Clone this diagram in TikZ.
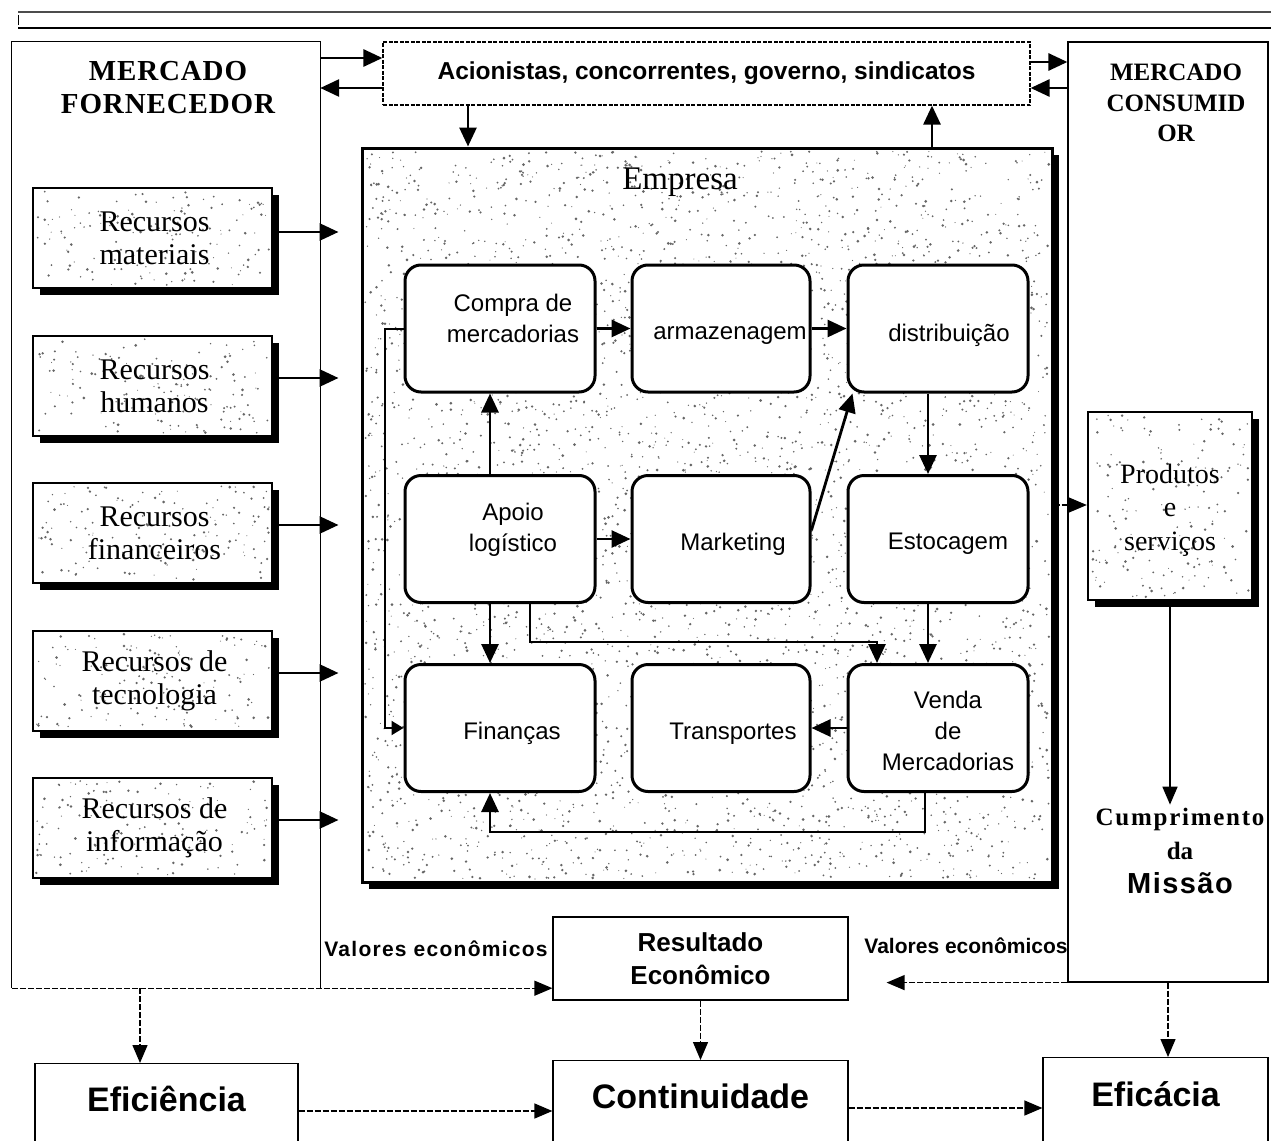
\documentclass[tikz,border=0pt]{standalone}
\usepackage{fontspec}
\setmainfont{Liberation Serif}
\setsansfont{Liberation Sans}
\usetikzlibrary{arrows.meta,calc}
\newcommand\fsz[2]{\fontsize{#1}{#2}\selectfont}
\newcommand\speckle[5]{\foreach \k in {1,...,#5}{\pgfmathsetmacro\rr{0.5+1.0*rnd}\fill[black!60] ({#1+#3*rnd},{#2+#4*rnd}) circle (\rr pt);}}
\newcommand\shbox[4]{\fill[black] ({#1+7},{#2+7}) rectangle ({#3+7},{#4+7});\fill[white] (#1,#2) rectangle (#3,#4);}
\tikzset{
  arr/.style={line width=2.8pt,-{Triangle[length=19pt,width=17pt]}},
  darr/.style={line width=1.3pt,dash pattern=on 6pt off 2pt,-{Triangle[length=18pt,width=15pt]}},
  inbox/.style={draw,line width=3pt,rounded corners=16pt,fill=white,minimum height=127pt},
  lbl/.style={align=center,font=\sffamily\fsz{24}{31}},
  resbox/.style={draw,line width=2.4pt,minimum width=239pt,minimum height=100pt},
  reslbl/.style={align=center,font=\fsz{30}{33},xshift=2pt},
  bigbox/.style={draw,line width=1.2pt,align=center,font=\sffamily\bfseries\fsz{34}{40},anchor=north,inner ysep=0pt,text height=48pt,text depth=60pt},
  thinbox/.style={draw,line width=1.2pt},
}
\begin{document}
\begin{tikzpicture}[x=1pt,y=-1pt]
\pgfmathsetseed{7}
\useasboundingbox (0,0) rectangle (1271,1140);
\clip (0,0) rectangle (1271,1140);
\fill[white] (0,0) rectangle (1271,1140);
% top rule
\draw[line width=1.2pt,black!70] (18,12) -- (1271,12);
\draw[line width=2pt] (18,28) -- (1271,28);
\draw[line width=1pt] (18,15) -- (18,25);
% Mercado fornecedor
\node[minimum width=308pt,minimum height=946pt,inner sep=0pt] (mf) at (166,515) {};
\draw[line width=1.2pt] (mf.south west) |- (mf.north east) -- (mf.south east);
\node[font=\bfseries\fsz{29}{33}\addfontfeature{LetterSpace=3},align=center] (mft) at (168,88) {MERCADO\\FORNECEDOR};
% Mercado consumidor
\node[thinbox,minimum width=200pt,minimum height=940pt,inner sep=0pt] (mc) at (1168,512) {};
\node[font=\bfseries\fsz{25}{30.5},align=center] (mct) at (1176,103) {MERCADO\\CONSUMID\\OR};
% Acionistas
\node[draw,dash pattern=on 4pt off 1.5pt,line width=1.2pt,minimum width=647pt,minimum height=63pt,inner sep=0pt,font=\sffamily\bfseries\fsz{24.5}{28}] (ac) at (706.5,73.5) {Acionistas, concorrentes, governo, sindicatos};
% resource boxes backgrounds
\foreach \t in {188,336,483,631,778}{\shbox{33}{\t}{272}{\t+100}\speckle{36}{\t+3}{233}{94}{150}}
\node[resbox,label={[reslbl]center:{Recursos\\materiais}}] (rm) at (152.5,238) {};
\node[resbox,label={[reslbl]center:{Recursos\\humanos}}] (rh) at (152.5,386) {};
\node[resbox,label={[reslbl]center:{Recursos\\financeiros}}] (rf) at (152.5,533) {};
\node[resbox,label={[reslbl]center:{Recursos de\\tecnologia}}] (rt) at (152.5,681) {};
\node[resbox,label={[reslbl]center:{Recursos de\\informação}}] (ri) at (152.5,828) {};
% Empresa
\shbox{362}{148}{1052}{882}
\speckle{365}{151}{684}{728}{4200}
\node[draw,line width=3pt,minimum width=690pt,minimum height=734pt,inner sep=0pt] (em) at (707,515) {};
\node[font=\fsz{33}{36}] (emt) at (680,182) {Empresa};
% inner boxes
\node[inbox,minimum width=190pt,label={[lbl,xshift=13pt,yshift=10pt]center:{Compra de\\mercadorias}}] (cp) at (500,328.5) {};
\node[inbox,minimum width=178pt,label={[lbl,xshift=9pt,yshift=-7pt]center:armazenagem}] (az) at (721,328.5) {};
\node[inbox,minimum width=180pt,label={[lbl,xshift=11pt,yshift=-7pt]center:distribuição}] (ds) at (938,328.5) {};
\node[inbox,minimum width=190pt,label={[lbl,xshift=13pt,yshift=9pt]center:{Apoio\\logístico}}] (ap) at (500,539) {};
\node[inbox,minimum width=178pt,label={[lbl,xshift=12pt,yshift=-5pt]center:Marketing}] (mk) at (721,539) {};
\node[inbox,minimum width=180pt,label={[lbl,xshift=10pt,yshift=-5pt]center:Estocagem}] (es) at (938,539) {};
\node[inbox,minimum width=190pt,label={[lbl,xshift=12pt,yshift=-5pt]center:Finanças}] (fi) at (500,728) {};
\node[inbox,minimum width=178pt,label={[lbl,xshift=12pt,yshift=-6pt]center:Transportes}] (tr) at (721,728) {};
\node[inbox,minimum width=180pt,label={[lbl,xshift=10pt,yshift=-3pt]center:{Venda\\de\\Mercadorias}}] (vd) at (938,728) {};
% Produtos
\shbox{1088}{412}{1252}{600}
\speckle{1091}{415}{158}{182}{170}
\node[draw,line width=2.4pt,minimum width=164pt,minimum height=188pt,inner sep=0pt,label={[align=center,font=\fsz{28}{33.5},yshift=-4pt]center:{Produtos\\e\\serviços}}] (pr) at (1170,506) {};
\node[align=center,font=\bfseries\fsz{25}{34}] (cm) at (1180,851) {{\addfontfeature{LetterSpace=7}Cumprimento}\\da\\{\sffamily\fsz{29}{34}\addfontfeature{LetterSpace=5}Missão}};
% Resultado
\node[thinbox,minimum width=295pt,minimum height=83pt,inner sep=0pt,align=center,font=\sffamily\bfseries\fsz{26}{33}] (res) at (700.5,958.5) {Resultado\\Econômico};
\node[font=\sffamily\bfseries\fsz{21}{24}\addfontfeature{LetterSpace=6}] (v1) at (436,949) {Valores econômicos};
\node[font=\sffamily\bfseries\fsz{21}{24}] (v2) at (966,946) {Valores econômicos};
% bottom boxes
\node[bigbox,minimum width=263pt] (ef) at (166.5,1063) {Eficiência};
\node[bigbox,minimum width=295pt] (co) at (700.5,1060) {Continuidade};
\node[bigbox,minimum width=225pt,text height=49pt] (ec) at (1155.5,1057) {Eficácia};
% top arrows
\draw[arr] (mf.east |- 0,58) -- (ac.west |- 0,58);
\draw[arr] (ac.west |- 0,88) -- (mf.east |- 0,88);
\draw[arr] (ac.east |- 0,62) -- (mc.west |- 0,62);
\draw[arr] (mc.west |- 0,88) -- (ac.east |- 0,88);
\draw[arr] (ac.south -| 468,0) -- (em.north -| 468,0);
\draw[arr] (em.north -| 932,0) -- (ac.south -| 932,0);
% resource arrows
\draw[arr,shorten >=22pt] (rm.east |- 0,232) -- (em.west |- 0,232);
\draw[arr,shorten >=22pt] (rh.east |- 0,378) -- (em.west |- 0,378);
\draw[arr,shorten >=22pt] (rf.east |- 0,525) -- (em.west |- 0,525);
\draw[arr,shorten >=22pt] (rt.east |- 0,673) -- (em.west |- 0,673);
\draw[arr,shorten >=22pt] (ri.east |- 0,820) -- (em.west |- 0,820);
% inner arrows
\draw[arr] (cp) -- (az);
\draw[arr] (az) -- (ds);
\draw[arr] (ap.north -| 490,0) -- (cp.south -| 490,0);
\draw[arr] (ap) -- (mk);
\draw[arr] (mk.east |- 0,530) -- ($(ds.south west)+(6,0)$);
\draw[arr] (ds.south -| 928,0) -- (es.north -| 928,0);
\draw[arr] (ap.south -| 490,0) -- (fi.north -| 490,0);
\draw[arr] (ap.south -| 530,0) -- (530,642) -| (vd.north -| 877,0);
\draw[arr] (es.south -| 928,0) -- (vd.north -| 928,0);
\draw[arr] (vd) -- (tr);
\draw[arr] (vd.south -| 925,0) |- (490,832) -- (fi.south -| 490,0);
\draw[arr,line width=2pt,-{Triangle[length=12pt,width=14pt]}] (cp.west) -| (385,728) -- (fi.west);
% right side
\draw[darr] (em.east |- 0,505) -- (pr.west |- 0,505);
\draw[line width=1.5pt,-{Triangle[length=18pt,width=15pt]}] (pr.south) -- (cm.north -| pr.south);
% bottom connectors
\draw[darr] (mf.south west) -- (res.west |- mf.south);
\draw[darr,shorten >=38pt] (mc.south west) -- (res.east |- mc.south);
\draw[darr] (mf.south -| 140,0) -- (ef.north -| 140,0);
\draw[darr] (res.south) -- (co.north);
\draw[darr] (mc.south) -- (ec.north -| mc.south);
\draw[darr] (ef.east |- 0,1111) -- (co.west |- 0,1111);
\draw[darr] (co.east |- 0,1108) -- (ec.west |- 0,1108);
\end{tikzpicture}
\end{document}
